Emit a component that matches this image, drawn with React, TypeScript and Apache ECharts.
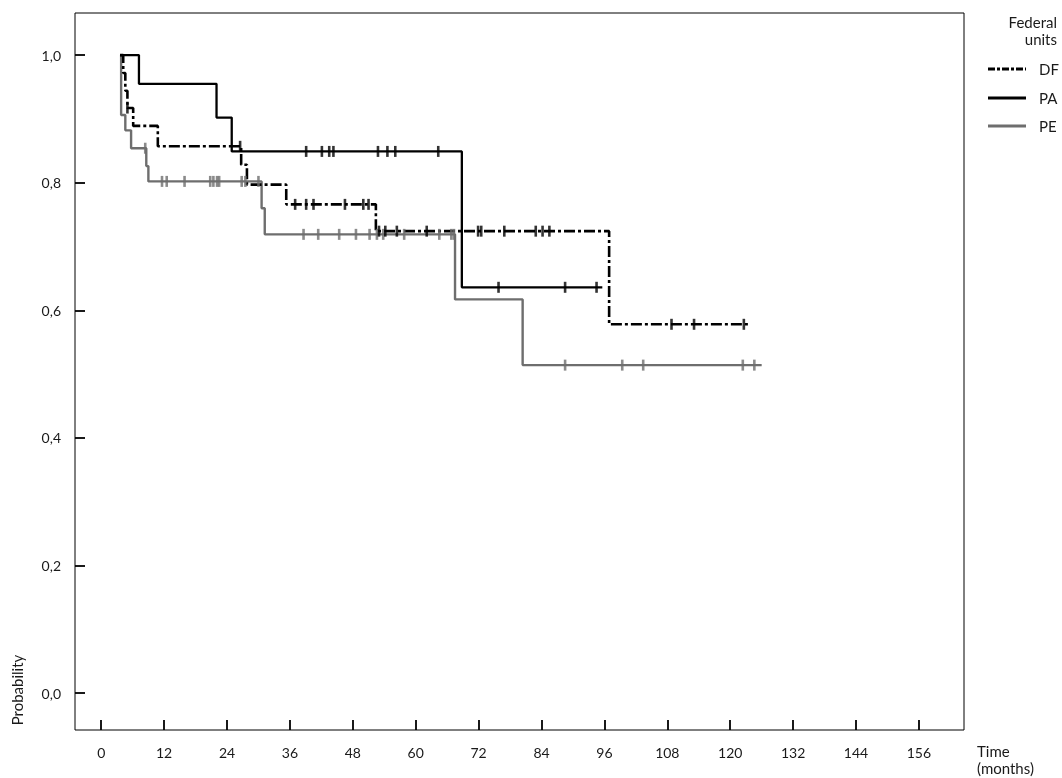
import React, { useEffect, useRef } from "react";
import * as echarts from "echarts";

// Kaplan-Meier step points [month, probability]
const dfSteps: [number, number][] = [
  [3.6, 1.0], [4.2, 0.972], [4.6, 0.944], [5.0, 0.917], [6.1, 0.889], [10.8, 0.857],
  [26.7, 0.828], [27.8, 0.797], [35.3, 0.766], [52.4, 0.724], [96.9, 0.578], [123.6, 0.578],
];
const paSteps: [number, number][] = [
  [3.6, 1.0], [7.2, 0.955], [22.0, 0.902], [24.9, 0.849], [68.8, 0.636], [95.6, 0.636],
];
const peSteps: [number, number][] = [
  [3.6, 1.0], [3.8, 0.906], [4.6, 0.882], [5.7, 0.854], [8.6, 0.826], [9.0, 0.802],
  [30.6, 0.76], [31.2, 0.719], [67.5, 0.617], [80.4, 0.514], [126.0, 0.514],
];

// Censoring times (months)
const dfCensor = [5.0, 26.5, 37.0, 39.1, 40.5, 46.5, 50.0, 51.0, 53.0, 54.2, 56.4, 62.1, 71.9, 72.5, 76.9, 82.9, 84.2, 85.5, 108.8, 113.1, 122.6];
const paCensor = [39.1, 42.1, 43.5, 44.3, 52.8, 54.6, 56.1, 64.3, 75.8, 88.5, 94.5];
const peCensor = [8.4, 11.6, 12.5, 15.9, 20.8, 21.4, 22.1, 22.5, 26.8, 27.5, 30.0, 38.6, 41.4, 45.4, 48.6, 51.2, 52.6, 53.8, 57.8, 64.5, 66.8, 67.3, 88.5, 99.4, 103.4, 122.4, 124.6];

const xTicks = [0, 12, 24, 36, 48, 60, 72, 84, 96, 108, 120, 132, 144, 156];
const yTicks = [0, 0.2, 0.4, 0.6, 0.8, 1.0];
const groups = ["DF", "PA", "PE"];

const FONT = "Lato, 'Noto Sans', sans-serif";
const TXT = "#1a1a1a";
const GRAY = "#6e6e6e";
const DASHDOT = [11, 3, 3, 3];

function survivalAt(steps: [number, number][], t: number): number {
  let v = steps[0][1];
  for (const [x, y] of steps) {
    if (x <= t) v = y;
  }
  return v;
}

export default function App() {
  const ref = useRef<HTMLDivElement>(null);
  useEffect(() => {
    if (!ref.current) return;
    const chart = echarts.init(ref.current, undefined, { renderer: "svg" });
    const mk = (steps: [number, number][], times: number[]) => times.map((t) => [t, survivalAt(steps, t)]);
    const legendY = [69, 98, 126];
    const legendStyles = [
      { stroke: "#000", lineWidth: 3, lineDash: [7, 2, 3, 2] },
      { stroke: "#000", lineWidth: 3 },
      { stroke: GRAY, lineWidth: 3 },
    ];
    const f15 = `15px ${FONT}`;
    const graphic: any[] = [
      { type: "text", x: 1057, y: 22, style: { text: "Federal", font: f15, fill: TXT, textAlign: "right", textVerticalAlign: "middle" } },
      { type: "text", x: 1057, y: 39, style: { text: "units", font: f15, fill: TXT, textAlign: "right", textVerticalAlign: "middle" } },
      {
        type: "text", x: 17, y: 690, rotation: Math.PI / 2,
        style: { text: "Probability", font: f15, fill: TXT, textAlign: "center", textVerticalAlign: "middle" },
      },
      { type: "text", x: 977, y: 751, style: { text: "Time", font: f15, fill: TXT, textVerticalAlign: "middle" } },
      { type: "text", x: 977, y: 768, style: { text: "(months)", font: f15, fill: TXT, textVerticalAlign: "middle" } },
    ];
    groups.forEach((g, i) => {
      graphic.push({ type: "line", shape: { x1: 988, y1: legendY[i], x2: 1026, y2: legendY[i] }, style: legendStyles[i] });
      graphic.push({ type: "text", x: 1039, y: legendY[i], style: { text: g, font: f15, fill: TXT, textVerticalAlign: "middle" } });
    });

    chart.setOption({
      animation: false,
      textStyle: { fontFamily: FONT },
      grid: { left: 75, right: 98, top: 13, bottom: 48, show: true, borderColor: "#000", borderWidth: 1, backgroundColor: "transparent" },
      xAxis: {
        type: "value", min: -5, max: 164.6, position: "bottom",
        axisLine: { show: false, onZero: false },
        splitLine: { show: false },
        axisTick: { show: true, inside: true, length: 10, customValues: xTicks, lineStyle: { color: "#000", width: 1.8 } },
        axisLabel: { customValues: xTicks, margin: 15, fontSize: 14, color: TXT, fontFamily: FONT },
      },
      yAxis: {
        type: "value", min: -0.058, max: 1.066, position: "left",
        axisLine: { show: false, onZero: false },
        splitLine: { show: false },
        axisTick: { show: true, inside: true, length: 10, customValues: yTicks, lineStyle: { color: "#000", width: 1.8 } },
        axisLabel: {
          customValues: yTicks, margin: 14, fontSize: 14, color: TXT, fontFamily: FONT,
          formatter: (v: number) => v.toFixed(1).replace(".", ","),
        },
      },
      series: [
        { name: "DF", type: "line", step: "end", symbol: "none", data: dfSteps, lineStyle: { color: "#000", width: 2.6, type: DASHDOT }, z: 3 },
        { name: "PA", type: "line", step: "end", symbol: "none", data: paSteps, lineStyle: { color: "#000", width: 2.3 }, z: 4 },
        { name: "PE", type: "line", step: "end", symbol: "none", data: peSteps, lineStyle: { color: GRAY, width: 2.4 }, z: 2 },
        { name: "DF censored", type: "scatter", symbol: "rect", symbolSize: [2.6, 11], data: mk(dfSteps, dfCensor), itemStyle: { color: "#000" }, z: 6 },
        { name: "PA censored", type: "scatter", symbol: "rect", symbolSize: [2.6, 11], data: mk(paSteps, paCensor), itemStyle: { color: "#000" }, z: 6 },
        { name: "PE censored", type: "scatter", symbol: "rect", symbolSize: [2.6, 11], data: mk(peSteps, peCensor), itemStyle: { color: GRAY }, z: 5 },
      ],
      graphic,
    });
    return () => chart.dispose();
  }, []);
  return <div ref={ref} style={{ position: "fixed", left: 0, top: 0, width: 1062, height: 778 }} />;
}
